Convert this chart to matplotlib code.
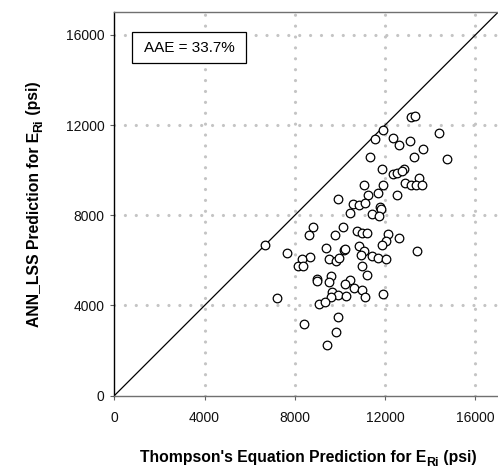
import matplotlib
matplotlib.use('Agg')
import matplotlib.pyplot as plt
import matplotlib.patches as mpatches

plt.rcParams['font.family'] = ['Liberation Sans', 'DejaVu Sans']

# Thompson's equation prediction (x) vs ANN_LSS prediction (y), psi
thompson = [13130, 13340, 11890, 11550, 12350, 12600, 13080, 14380, 13670, 13290,
            11350, 14720, 11850, 12850, 12350, 12540, 12760, 13480, 11890, 11060,
            12890, 13140, 13380, 13620, 11240, 11700, 12540, 9930, 10580, 10840,
            11120, 11760, 11800, 10460, 11430, 11730, 8810, 10130, 8620, 9770,
            10740, 10960, 11200, 12110, 12610, 12050, 11880, 6670, 10820, 9370,
            10160, 10210, 11060, 13430, 7670, 10920, 11430, 11670, 12040, 8690,
            8320, 9530, 9810, 9960, 8160, 8380, 10990, 11200, 9590, 8980,
            8980, 9500, 10430, 10200, 10610, 10960, 9660, 9930, 10270, 11120,
            11920, 9590, 7190, 9070, 9340, 9930, 8410, 9820, 9440]
ann_lss = [12350, 12390, 11760, 11360, 11440, 11110, 11290, 11660, 10940, 10580,
           10580, 10480, 10050, 10050, 9820, 9880, 9970, 9670, 9330, 9330,
           9450, 9350, 9350, 9360, 8890, 8990, 8890, 8710, 8520, 8450,
           8550, 8380, 8290, 8120, 8040, 7970, 7480, 7490, 7110, 7110,
           7290, 7210, 7210, 7170, 7010, 6840, 6700, 6700, 6650, 6550,
           6480, 6510, 6400, 6420, 6340, 6240, 6180, 6110, 6080, 6160,
           6040, 6040, 5990, 6090, 5740, 5760, 5760, 5340, 5290, 5170,
           5100, 5030, 5150, 4960, 4790, 4700, 4610, 4460, 4430, 4360,
           4520, 4370, 4330, 4050, 4150, 3490, 3200, 2810, 2250]

ticks = [0, 4000, 8000, 12000, 16000]
lim = 17000
aae_text = 'AAE = 33.7%'
xlabel_parts = ["Thompson's Equation Prediction for E", "Ri", " (psi)"]
ylabel_parts = ["ANN_LSS Prediction for E", "Ri", " (psi)"]

W, H = 498, 472
fig = plt.figure(figsize=(W / 100, H / 100), dpi=100)
ax = fig.add_axes([0.2295, 0.1617, 0.7705, 0.8123])

ax.set_xlim(0, lim)
ax.set_ylim(0, lim)
ax.set_xticks(ticks)
ax.set_yticks(ticks)
ax.set_xticklabels([str(t) for t in ticks])
ax.set_yticklabels([str(t) for t in ticks])

for t in ticks[1:]:
    ax.axvline(t, color='#c4c4c4', lw=2.3, linestyle=(0, (0.01, 3.4)),
               dash_capstyle='round', zorder=0)
    ax.axhline(t, color='#c4c4c4', lw=2.3, linestyle=(0, (0.01, 3.4)),
               dash_capstyle='round', zorder=0)

ax.plot([0, lim], [0, lim], color='black', lw=0.9, zorder=2)
ax.plot(thompson, ann_lss, 'o', ms=6.2, mfc='white', mec='black', mew=0.9,
        linestyle='none', zorder=3)

ax.add_patch(mpatches.Rectangle((0.047, 0.8685), 0.296, 0.079,
                                transform=ax.transAxes, facecolor='white',
                                edgecolor='black', lw=0.9, zorder=4))
ax.text(0.195, 0.908, aae_text, transform=ax.transAxes, ha='center',
        va='center', fontsize=11, zorder=5)

ax.spines['right'].set_visible(False)
ax.spines['left'].set_color('black')
ax.spines['bottom'].set_color('#707070')
ax.spines['top'].set_color('#707070')
for s in ax.spines.values():
    s.set_linewidth(1.0)

ax.tick_params(axis='both', labelsize=10, length=3, width=0.8, colors='#606060',
               labelcolor='#111111')
ax.tick_params(axis='x', pad=8)
ax.tick_params(axis='y', pad=4)

# labels with a large, lowered subscript (drawn piece by piece)
renderer = fig.canvas.get_renderer()
main_size, sub_size = 11.3, 9.0
sub_drop = 4.0  # px


def part_width(s, size):
    t = fig.text(0, 0, s, fontsize=size, fontweight='bold')
    w = t.get_window_extent(renderer).width
    t.remove()
    return w


def rich_label(parts, cx, cy, vertical):
    sizes = [main_size, sub_size, main_size]
    drops = [0, sub_drop, 0]
    widths = [part_width(s, sz) for s, sz in zip(parts, sizes)]
    pos = -sum(widths) / 2
    for s, sz, dr, w in zip(parts, sizes, drops, widths):
        if vertical:
            x, y, rot = cx + dr, cy + pos, 90
        else:
            x, y, rot = cx + pos, cy - dr, 0
        fig.text(x / W, y / H, s, fontsize=sz, fontweight='bold', rotation=rot,
                 rotation_mode='anchor', ha='left', va='baseline')
        pos += w


rich_label(xlabel_parts, 308, H - 462, vertical=False)
rich_label(ylabel_parts, 38, H - 204, vertical=True)

fig.savefig('out.png', dpi=100)
